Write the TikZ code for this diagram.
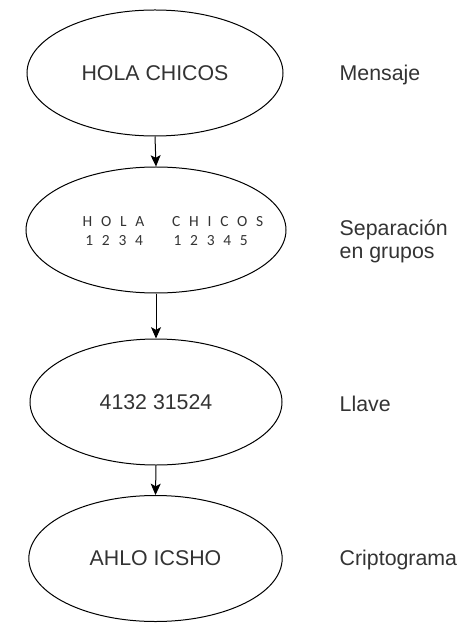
\documentclass[tikz,border=0pt]{standalone}
\usepackage{fontspec}
\setmainfont{Liberation Sans}
\newfontfamily\grupofont[WordSpace=2.5]{Carlito}
\usetikzlibrary{arrows.meta,shapes.geometric,positioning}
\definecolor{texto}{RGB}{51,51,51}

\begin{document}
\begin{tikzpicture}[x=0.75pt,y=0.75pt,yscale=-1,xscale=1,
  paso/.style={ellipse,draw,line width=0.75pt,inner sep=0pt,minimum height=94.5pt,text=texto,font=\fontsize{16}{19}\selectfont},
  rotulo/.style={anchor=west,align=left,text=texto,font=\fontsize{16}{17.25}\selectfont},
  flecha/.style={line width=0.75pt,-{Stealth[length=8.5pt,width=7.5pt,inset=2pt]}}]
\useasboundingbox (0,0) rectangle (473,634);

%Shape: Ellipse [id:mensaje]
\node (mensaje) [paso,minimum width=192pt] at (155,73) {HOLA CHICOS};
%Shape: Ellipse [id:grupos]
\node (grupos) [paso,minimum width=195pt] at (156,230) {};
%Shape: Ellipse [id:llave]
\node (llave) [paso,minimum width=189pt] at (156,402) {4132 31524};
%Shape: Ellipse [id:cripto]
\node (cripto) [paso,minimum width=190pt] at (155.5,558.5) {AHLO ICSHO};

%Straight Lines
\draw [flecha] (mensaje.south) -- (grupos.north);
\draw [flecha] (grupos.south) -- (llave.north);
\draw [flecha] (llave.south) -- (cripto.north);

% Text Node
\node (letras) [anchor=west,align=left,text=texto,font=\grupofont\fontsize{11.6}{14.25}\selectfont] at (78,231) {H O L A\hspace{21pt}C H I C O S\\\hspace{2pt}1 2 3 4\hspace{23pt}1 2 3 4 5};
% Text Node
\node (lmensaje) [rotulo] at (335,75) {Mensaje};
% Text Node
\node (lgrupos) [rotulo] at (335,241) {Separación\\en grupos};
% Text Node
\node (lllave) [rotulo] at (335,404) {Llave};
% Text Node
\node (lcripto) [rotulo] at (335,560) {Criptograma};
\end{tikzpicture}
\end{document}
